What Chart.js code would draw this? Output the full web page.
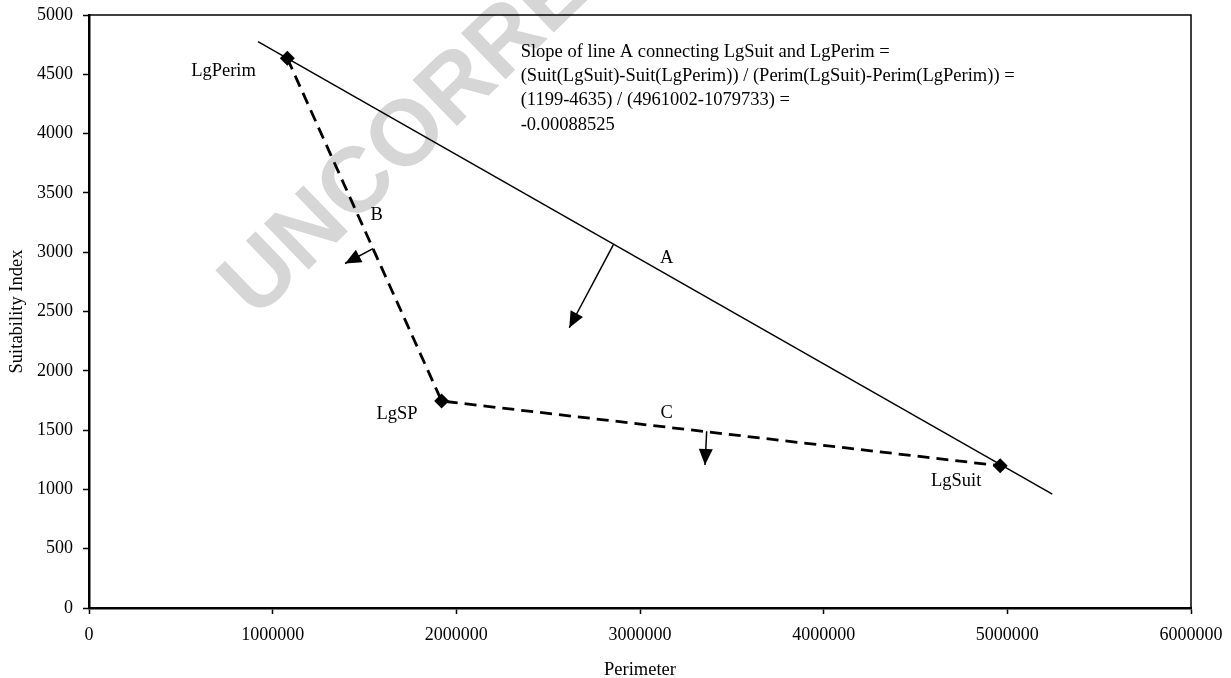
<!DOCTYPE html>
<html><head><meta charset="utf-8">
<script src="https://cdn.jsdelivr.net/npm/chart.js@4.4.1/dist/chart.umd.min.js"></script>
<style>html,body{margin:0;padding:0;background:#fff;}#wrap{width:1231px;height:678px;}</style>
</head><body><div id="wrap"><canvas id="c" width="1231" height="678"></canvas></div>
<script>
// ---- data ----
const pointNames = ['LgPerim', 'LgSP', 'LgSuit'];
const pointPerimeter = [1079733, 1920000, 4961002];
const pointSuitability = [4635, 1745, 1199];

const lineAPerimeter = [920000, 5245000];
const lineASuitability = [4775, 960];

const arrowStartPerimeter = [2854600, 1546000, 3363000];
const arrowStartSuitability = [3062, 3030, 1490];
const arrowTipPerimeter = [2615000, 1394000, 3354000];
const arrowTipSuitability = [2363, 2905, 1206];

const labelTexts = ['LgPerim', 'LgSP', 'LgSuit', 'A', 'B', 'C'];
const labelPerimeter = [732300, 1677000, 4721500, 3145300, 1566400, 3145300];
const labelSuitability = [4525, 1632, 1069, 2949, 3314, 1642];

const noteLines = [
  'Slope of line A connecting LgSuit and LgPerim =',
  '(Suit(LgSuit)-Suit(LgPerim)) / (Perim(LgSuit)-Perim(LgPerim)) =',
  '(1199-4635) / (4961002-1079733) =',
  '-0.00088525'
];
const notePerimeter = [2350400];
const noteSuitability = [4691];

const xTickValues = [0, 1000000, 2000000, 3000000, 4000000, 5000000, 6000000];
const yTickValues = [0, 500, 1000, 1500, 2000, 2500, 3000, 3500, 4000, 4500, 5000];
const xTitle = 'Perimeter';
const yTitle = 'Suitability Index';
const watermark = 'UNCORRECTED PROOF';

// ---- build ----
const SERIF = '"Liberation Serif", "Times New Roman", serif';
const pts = (xs, ys) => xs.map((x, i) => ({x: x, y: ys[i]}));

const datasets = [];
datasets.push({
  label: 'points', data: pts(pointPerimeter, pointSuitability), showLine: false,
  pointStyle: 'rectRot', pointRadius: 7.5, backgroundColor: '#000', borderColor: '#000', borderWidth: 0
});
datasets.push({
  label: 'A', data: pts(lineAPerimeter, lineASuitability), showLine: true,
  borderColor: '#000', borderWidth: 1.5, pointRadius: 0
});
datasets.push({
  label: 'BC', data: pts(pointPerimeter, pointSuitability), showLine: true,
  borderColor: '#000', borderWidth: 2.8, borderDash: [12, 7], borderCapStyle: 'butt', pointRadius: 0
});
for (let i = 0; i < arrowStartPerimeter.length; i++) {
  datasets.push({
    label: 'arrow' + i,
    data: [{x: arrowStartPerimeter[i], y: arrowStartSuitability[i]}, {x: arrowTipPerimeter[i], y: arrowTipSuitability[i]}],
    showLine: true, borderColor: '#000', borderWidth: 1.5, pointRadius: 0
  });
}

const decor = {
  id: 'decor',
  beforeDraw(chart) {
    const ctx = chart.ctx;
    ctx.save();
    ctx.fillStyle = '#fff';
    ctx.fillRect(0, 0, chart.width, chart.height);
    ctx.translate(232.5, 296.4);
    ctx.rotate(-44 * Math.PI / 180);
    ctx.font = 'bold 93px "Liberation Sans", Arial, sans-serif';
    ctx.fillStyle = '#d6d6d6';
    ctx.textBaseline = 'alphabetic';
    ctx.textAlign = 'left';
    ctx.fillText(watermark, 0, 33.3);
    ctx.restore();
  },
  beforeDatasetsDraw(chart) {
    const ctx = chart.ctx, a = chart.chartArea;
    ctx.save();
    ctx.strokeStyle = '#000';
    ctx.lineWidth = 1.5;
    ctx.beginPath();
    ctx.moveTo(a.left, a.top);
    ctx.lineTo(a.right, a.top);
    ctx.lineTo(a.right, a.bottom);
    ctx.stroke();
    ctx.restore();
  },
  afterDatasetsDraw(chart) {
    const ctx = chart.ctx, xs = chart.scales.x, ys = chart.scales.y;
    ctx.save();
    // arrowheads
    ctx.fillStyle = '#000';
    for (let i = 0; i < arrowTipPerimeter.length; i++) {
      const sx = xs.getPixelForValue(arrowStartPerimeter[i]), sy = ys.getPixelForValue(arrowStartSuitability[i]);
      const tx = xs.getPixelForValue(arrowTipPerimeter[i]), ty = ys.getPixelForValue(arrowTipSuitability[i]);
      const len = Math.hypot(tx - sx, ty - sy);
      const dx = (tx - sx) / len, dy = (ty - sy) / len;
      const L = 16, W = 7;
      const bx = tx - dx * L, by = ty - dy * L;
      ctx.beginPath();
      ctx.moveTo(tx, ty);
      ctx.lineTo(bx - dy * W, by + dx * W);
      ctx.lineTo(bx + dy * W, by - dx * W);
      ctx.closePath();
      ctx.fill();
    }
    // labels
    ctx.fillStyle = '#000';
    ctx.font = '18.5px ' + SERIF;
    ctx.textAlign = 'center';
    ctx.textBaseline = 'middle';
    for (let i = 0; i < labelTexts.length; i++) {
      ctx.fillText(labelTexts[i], xs.getPixelForValue(labelPerimeter[i]), ys.getPixelForValue(labelSuitability[i]));
    }
    // note
    ctx.textAlign = 'left';
    const nx = xs.getPixelForValue(notePerimeter[0]), ny = ys.getPixelForValue(noteSuitability[0]);
    noteLines.forEach((t, i) => ctx.fillText(t, nx, ny + i * 24.4));
    ctx.restore();
  }
};

new Chart(document.getElementById('c'), {
  type: 'scatter',
  data: {datasets: datasets},
  options: {
    responsive: false,
    animation: false,
    devicePixelRatio: 1,
    layout: {padding: {top: 15, right: 40, left: 0, bottom: 0}},
    plugins: {legend: {display: false}, tooltip: {enabled: false}},
    elements: {line: {tension: 0}},
    scales: {
      x: {
        type: 'linear', min: 0, max: 6000000,
        afterBuildTicks: s => { s.ticks = xTickValues.map(v => ({value: v})); },
        afterFit: s => { s.height = 70; s.paddingLeft = 0; s.paddingRight = 0; },
        ticks: {callback: v => String(v), color: '#000', font: {family: SERIF, size: 18}, padding: 10, maxRotation: 0, autoSkip: false},
        grid: {drawOnChartArea: false, drawTicks: true, tickLength: 6, color: '#000', tickWidth: 1.5},
        border: {display: true, color: '#000', width: 2.5},
        title: {display: true, text: xTitle, color: '#000', font: {family: SERIF, size: 18.5, lineHeight: 1}, padding: {top: 0, bottom: -1}}
      },
      y: {
        type: 'linear', min: 0, max: 5000,
        afterBuildTicks: s => { s.ticks = yTickValues.map(v => ({value: v})); },
        afterFit: s => { s.width = 89; s.paddingTop = 0; s.paddingBottom = 0; },
        ticks: {callback: v => String(v), color: '#000', font: {family: SERIF, size: 18}, padding: 10, autoSkip: false},
        grid: {drawOnChartArea: false, drawTicks: true, tickLength: 6, color: '#000', tickWidth: 1.5},
        border: {display: true, color: '#000', width: 2.5},
        title: {display: true, text: yTitle, color: '#000', font: {family: SERIF, size: 18.5, lineHeight: 1}, padding: {top: 7.5, bottom: 0}}
      }
    }
  },
  plugins: [decor]
});
</script>
</body></html>
